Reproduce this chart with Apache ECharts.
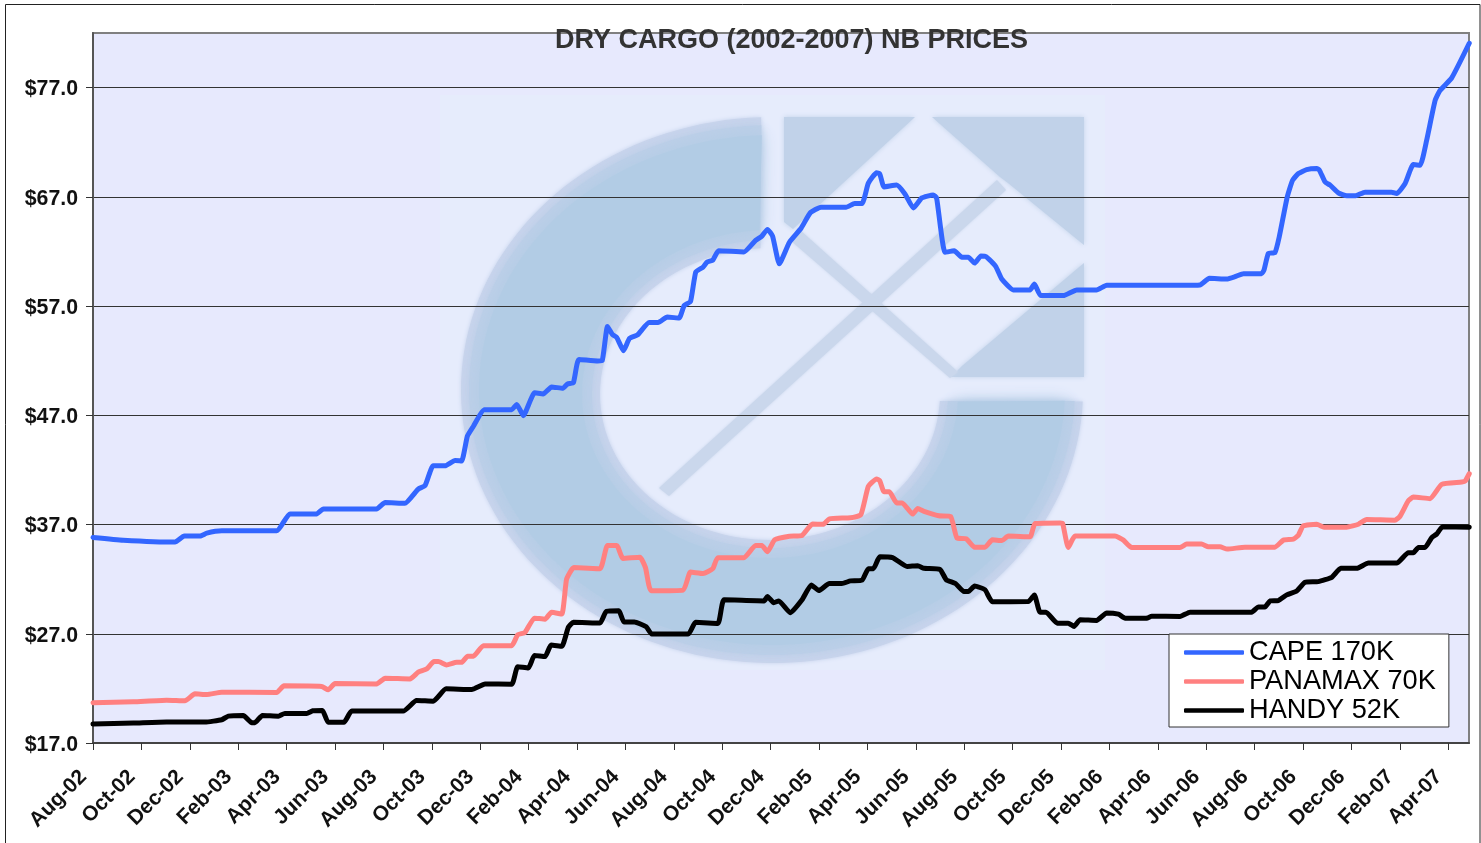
<!DOCTYPE html>
<html>
<head>
<meta charset="utf-8">
<style>html,body{margin:0;padding:0;background:#fff;overflow:hidden}#c{width:1481px;height:843px}</style>
<script src="https://cdn.jsdelivr.net/npm/echarts@6/dist/echarts.min.js"></script>
</head>
<body>
<div id="c"></div>
<script>
var chartTitle = 'DRY CARGO (2002-2007) NB PRICES';
var monthLabels = ['Aug-02','Oct-02','Dec-02','Feb-03','Apr-03','Jun-03','Aug-03','Oct-03','Dec-03','Feb-04','Apr-04','Jun-04','Aug-04','Oct-04','Dec-04','Feb-05','Apr-05','Jun-05','Aug-05','Oct-05','Dec-05','Feb-06','Apr-06','Jun-06','Aug-06','Oct-06','Dec-06','Feb-07','Apr-07'];
var monthTicks = [0,2,4,6,8,10,12,14,16,18,20,22,24,26,28,30,32,34,36,38,40,42,44,46,48,50,52,54,56];
var priceTicks = [17,27,37,47,57,67,77];

// time is in months since Aug-02
var capeMonths = [0,1.25,3.39,3.77,4.42,4.7,5.32,7.59,8.14,9.24,9.52,11.72,12.07,12.89,13.44,13.72,14.06,14.55,14.96,15.23,15.47,15.72,16.17,17.3,17.51,17.78,18.25,18.6,18.95,19.42,19.61,19.85,20.08,20.86,21.04,21.26,21.47,21.64,21.92,22.17,22.51,22.98,23.35,23.73,24.22,24.43,24.69,24.91,25.21,25.38,25.61,25.85,26.9,27.38,27.64,27.87,28.08,28.36,28.78,29.26,29.64,30.08,31.12,31.47,31.78,32.04,32.38,32.51,32.69,33.21,33.56,33.9,34.25,34.72,34.86,35.21,35.59,35.9,36.17,36.43,36.69,36.91,37.3,37.56,38.03,38.72,38.9,39.16,40.1,40.65,41.47,41.89,44.92,45.74,46.13,46.85,47.19,47.54,48.29,48.39,48.57,48.84,49.02,49.35,49.57,49.81,50.15,50.57,50.68,50.91,51.12,51.46,51.81,52.15,52.56,53.66,53.87,54.22,54.56,54.84,55.11,55.46,55.66,56.14,56.87];
var capeValues = [35.82,35.57,35.39,35.94,35.94,36.21,36.42,36.42,37.97,37.97,38.43,38.43,39.01,38.95,40.25,40.56,42.38,42.38,42.87,42.81,45.09,46,47.52,47.52,48,46.97,49.06,48.96,49.6,49.47,49.88,49.98,52.11,51.97,52,55.12,54.38,54.14,52.92,54.04,54.38,55.49,55.49,56,55.9,57.05,57.42,60.13,60.57,61.04,61.21,62.06,61.96,63.01,63.41,64.02,63.41,60.87,62.84,64.12,65.54,66.05,66.05,66.39,66.39,68.25,69.2,69.1,67.91,68.08,67.24,65.98,66.9,67.17,66.9,61.92,62.06,61.48,61.48,60.94,61.59,61.52,60.64,59.45,58.48,58.48,59.02,57.96,57.96,58.48,58.48,58.9,58.9,58.93,59.54,59.48,59.69,59.97,59.97,60.3,61.82,61.89,63.35,67,68.52,69.13,69.5,69.59,69.44,68.37,68.07,67.37,67.09,67.09,67.43,67.43,67.3,68.22,69.95,69.89,72.18,75.83,76.74,77.87,81.06];

var panamaxMonths = [0,1.67,3.04,3.8,4.21,4.7,5.32,7.59,7.89,9.45,9.72,10,11.72,12.07,13.1,13.44,13.79,14.09,14.27,14.61,15.03,15.23,15.48,15.72,16.13,17.3,17.55,17.85,18.24,18.68,18.95,19.37,19.57,19.87,20.95,21.26,21.64,21.9,22.6,22.83,23.07,24.39,24.69,25.21,25.61,25.82,26.9,27.38,27.64,27.87,28.17,28.78,29.3,29.73,30.17,30.43,31.3,31.73,32.04,32.38,32.51,32.69,32.91,33.21,33.44,33.87,34.08,34.34,34.95,35.44,35.7,36.08,36.43,36.86,37.16,37.56,37.82,38.72,38.93,39.96,40.07,40.3,40.58,42.23,42.58,42.92,44.92,45.19,45.81,46.09,46.57,46.87,47.6,48.84,49.19,49.6,49.81,50.01,50.57,50.87,51.81,52.29,52.63,53.8,54.01,54.35,54.56,55.25,55.73,56.56,56.7,56.87];
var panamaxValues = [20.68,20.77,20.92,20.86,21.5,21.44,21.65,21.62,22.23,22.17,21.87,22.44,22.41,22.93,22.87,23.48,23.78,24.45,24.45,24.15,24.39,24.39,24.94,24.94,25.91,25.91,26.91,27.12,28.43,28.34,28.98,28.8,32,33.06,32.96,35.09,35.09,33.9,34,33.06,30.93,31,32.65,32.52,32.96,33.97,33.97,35.09,35.09,34.51,35.6,35.93,36,37.05,37.02,37.52,37.63,37.9,40.5,41.18,41.01,40,40,38.98,38.98,37.96,38.47,38.2,37.8,37.73,35.77,35.7,34.92,34.92,35.6,35.53,35.94,35.88,37.09,37.15,37.09,34.9,35.94,35.94,35.57,34.9,34.9,35.21,35.21,34.96,34.96,34.75,34.93,34.93,35.57,35.66,36.03,36.88,37.03,36.76,36.76,37.03,37.46,37.4,37.76,39.16,39.52,39.37,40.68,40.89,40.98,41.65];

var handyMonths = [0,1.67,3.04,4.63,5.32,5.59,6.21,6.56,6.69,7,7.66,7.93,8.83,9.08,9.48,9.72,10.37,10.69,12.82,13.37,14.06,14.59,15.65,16.2,17.3,17.55,17.99,18.24,18.68,18.93,19.37,19.64,19.85,20.95,21.21,21.73,21.94,22.37,22.86,23.09,24.6,24.9,25.82,26.08,27.73,27.87,28.13,28.34,28.81,29.3,29.68,29.99,30.43,30.95,31.3,31.78,32.04,32.25,32.51,33.04,33.64,34.08,34.34,35,35.26,35.64,35.99,36.17,36.43,36.86,37.16,38.65,38.9,39.13,39.38,39.85,40.3,40.54,40.79,41.47,41.89,42.37,42.65,43.54,43.75,44.92,45.33,47.88,48.16,48.43,48.64,48.98,49.33,49.74,50.08,50.63,51.19,51.56,52.22,52.7,53.87,54.35,54.56,54.77,55.04,55.32,55.52,55.77,56.87];
var handyValues = [18.73,18.82,18.92,18.92,19.13,19.46,19.52,18.86,18.86,19.52,19.46,19.71,19.71,19.95,19.98,18.89,18.89,19.92,19.92,20.89,20.83,21.96,21.9,22.41,22.38,23.99,23.87,25,24.91,25.97,25.85,27.58,28.05,27.98,29.06,29.1,28.08,28.08,27.64,26.97,26.97,28.05,27.95,30.11,30.01,30.42,29.84,30.01,28.93,30.11,31.47,30.96,31.6,31.6,31.84,31.91,32.96,32.96,34.04,33.97,33.16,33.23,32.99,32.89,31.94,31.6,30.86,30.86,31.37,31.03,29.94,29.95,30.56,28.98,28.98,27.97,27.97,27.67,28.28,28.22,28.91,28.79,28.43,28.43,28.61,28.58,28.98,28.98,29.46,29.46,30.01,30.04,30.56,30.92,31.71,31.77,32.17,32.99,32.99,33.47,33.47,34.42,34.42,34.9,34.9,35.81,36.12,36.79,36.76];

function zip(a, b) { return a.map(function (x, i) { return [x, b[i]]; }); }

var bg = '#E7E9FD';
var logoBlue = '#B2CCE5';
var logoMid = '#BCCFE8';
var logoEdge = '#C8D4EC';
var logoSquare = '#C1D2E9';
var logoStripe = '#CAD7EC';
function poly(points, fill, blur) {
  return { type: 'polygon', shape: { points: points }, style: { fill: fill, shadowColor: fill, shadowBlur: blur === undefined ? 5 : blur } };
}
// watermark ring, traced as an outline
function ellipseArc(cx, cy, rx, ry, fromDeg, toDeg) {
  var pts = [], n = 120;
  for (var i = 0; i <= n; i++) {
    var a = (fromDeg + (toDeg - fromDeg) * i / n) * Math.PI / 180;
    pts.push([cx + rx * Math.cos(a), cy + ry * Math.sin(a)]);
  }
  return pts;
}
function ring(grow) {
  return ellipseArc(772, 390, 311 - grow, 273 - grow, 268, 2.4)
    .concat(ellipseArc(770, 394, 170 + grow, 146 + grow, 2.7, 266.8));
}

var graphics = [
  { type: 'rect', shape: { x: 93, y: 33, width: 1376, height: 710 }, style: { fill: bg } },
  { type: 'rect', shape: { x: 440, y: 95, width: 665, height: 575 }, style: { fill: '#E6ECFC' } },
  poly(ring(0), logoEdge, 4),
  poly(ring(8), logoMid, 10),
  poly(ring(18), logoBlue, 16),
  poly([[784,117],[915,117],[793,229],[784,222]], logoSquare),
  poly([[932,117],[1084,117],[1084,245],[1008,183],[1000,177]], logoSquare),
  poly([[951,377],[1084,377],[1084,263],[962,366]], logoSquare),
  poly([[659,488],[669,496],[1006,190],[997,180]], logoStripe, 3),
  poly([[790,240],[800,230],[958,372],[950,378]], logoStripe, 3),
  { type: 'rect', shape: { x: 5.5, y: 4.5, width: 1474.5, height: 900 }, style: { fill: 'none', stroke: '#222', lineWidth: 1 } },
  { type: 'rect', shape: { x: 93, y: 33, width: 1376, height: 710 }, style: { fill: 'none', stroke: '#808080', lineWidth: 2 } }
];

var chart = echarts.init(document.getElementById('c'), null, { renderer: 'canvas' });
chart.setOption({
  animation: false,
  backgroundColor: '#fff',
  title: {
    text: chartTitle, left: 550, top: 22,
    textStyle: { fontFamily: 'Liberation Sans', fontWeight: 'bold', fontSize: 27, color: '#333' }, z: 6
  },
  grid: { left: 93, top: 33, width: 1376, height: 710, show: false },
  graphic: { elements: graphics },
  legend: {
    orient: 'vertical', left: 1169, top: 634, padding: [5, 13, 3, 15], itemGap: 2, itemWidth: 60, itemHeight: 4.5, icon: 'roundRect',
    backgroundColor: '#fff', borderColor: '#333', borderWidth: 1,
    textStyle: { fontFamily: 'Liberation Sans', fontSize: 27.2, color: '#000' },
    data: ['CAPE 170K', 'PANAMAX 70K', 'HANDY 52K']
  },
  xAxis: {
    type: 'value', min: 0, max: 56.86, z: 1,
    axisLine: { show: true, lineStyle: { color: '#444', width: 2 } },
    axisTick: { show: true, length: 7, customValues: monthTicks, lineStyle: { color: '#333', width: 1 } },
    splitLine: { show: false },
    axisLabel: {
      customValues: monthTicks, rotate: 45, margin: 21,
      rich: { t: { padding: [0, 13.5, 0, 0], fontFamily: 'Liberation Sans', fontWeight: 'bold', fontSize: 21, color: '#111' } },
      formatter: function (v) { return '{t|' + (monthLabels[monthTicks.indexOf(v)] || '') + '}'; }
    }
  },
  yAxis: {
    type: 'value', min: 17, max: 82, z: 1,
    axisLine: { show: true, lineStyle: { color: '#555', width: 2 } },
    axisTick: { show: true, length: 7, customValues: priceTicks, lineStyle: { color: '#333', width: 1 } },
    splitLine: { show: true, lineStyle: { color: '#333', width: 1 } },
    axisLabel: {
      customValues: priceTicks, margin: 15,
      rich: { p: { padding: [4, 0, 0, 0], fontFamily: 'Liberation Sans', fontWeight: 'bold', fontSize: 21.3, color: '#111' } },
      formatter: function (v) { return '{p|$' + v.toFixed(1) + '}'; }
    }
  },
  series: [
    { name: 'CAPE 170K', type: 'line', data: zip(capeMonths, capeValues), color: '#3366FF', showSymbol: false, symbol: 'none', smooth: 0.15, lineStyle: { width: 5, color: '#3366FF', join: 'round', cap: 'round' } },
    { name: 'PANAMAX 70K', type: 'line', data: zip(panamaxMonths, panamaxValues), color: '#FF8080', showSymbol: false, symbol: 'none', smooth: 0.15, lineStyle: { width: 5, color: '#FF8080', join: 'round', cap: 'round' } },
    { name: 'HANDY 52K', type: 'line', data: zip(handyMonths, handyValues), color: '#000', showSymbol: false, symbol: 'none', smooth: 0.15, lineStyle: { width: 5, color: '#000', join: 'round', cap: 'round' } }
  ]
});
</script>
</body>
</html>
